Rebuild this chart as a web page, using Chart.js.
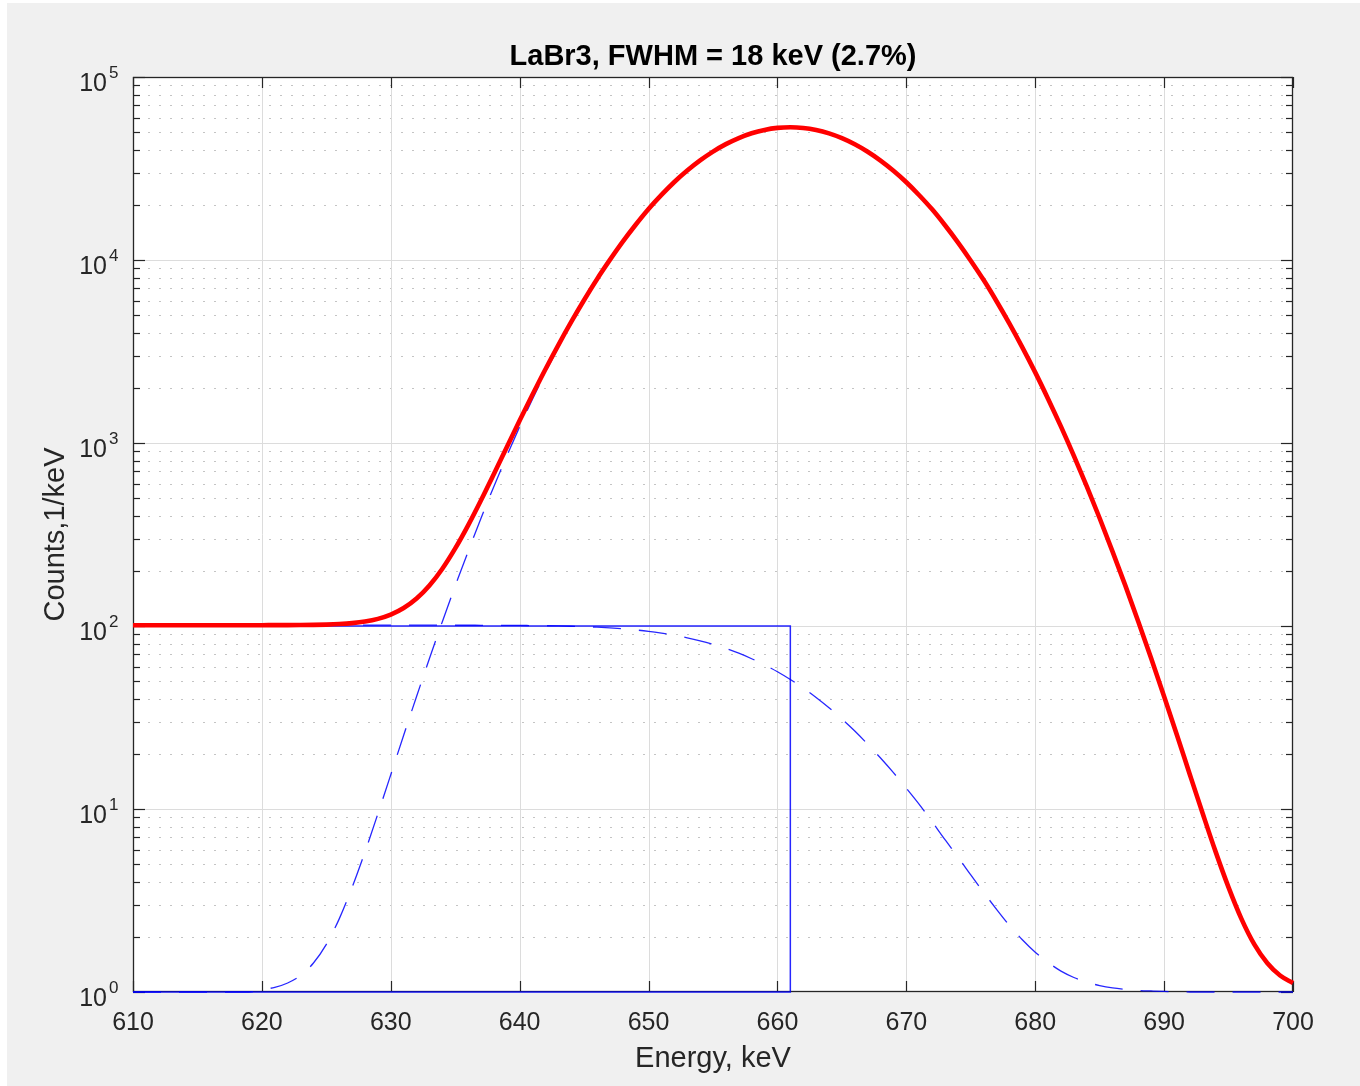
<!DOCTYPE html>
<html>
<head>
<meta charset="utf-8">
<title>LaBr3, FWHM = 18 keV (2.7%)</title>
<script src="https://cdn.jsdelivr.net/npm/chart.js@4.4.0/dist/chart.umd.min.js"></script>
<style>
  html, body { margin: 0; padding: 0; background: #ffffff; }
  #plot { display: block; }
</style>
</head>
<body>
<canvas id="plot" width="1360" height="1086"></canvas>
<script>
// energy grid, keV
const energy = [
  610, 611, 612, 613, 614, 615, 616, 617, 618, 619,
  620, 621, 622, 623, 624, 625, 626, 627, 628, 629,
  630, 631, 632, 633, 634, 635, 636, 637, 638, 639,
  640, 641, 642, 643, 644, 645, 646, 647, 648, 649,
  650, 651, 652, 653, 654, 655, 656, 657, 658, 659,
  660, 661, 662, 663, 664, 665, 666, 667, 668, 669,
  670, 671, 672, 673, 674, 675, 676, 677, 678, 679,
  680, 681, 682, 683, 684, 685, 686, 687, 688, 689,
  690, 691, 692, 693, 694, 695, 696, 697, 698, 699,
  700
];

// red: full response (peak + smeared step)
const totalCounts = [
  101, 101, 101, 101, 101, 101, 101, 101, 101, 101,
  101, 101.1, 101.1, 101.2, 101.4, 101.8, 102.5, 103.7, 105.8, 109.4,
  115.4, 125.3, 141.2, 166.4, 205.6, 265.5, 355, 487, 678, 949,
  1327, 1840, 2530, 3430, 4590, 6050, 7860, 10010, 12590, 15575,
  18990, 22670, 26680, 30810, 35000, 39110, 42955, 46380, 49235, 51370,
  52705, 53150, 52695, 51350, 49205, 46340, 42905, 39050, 34940, 30735,
  26600, 22590, 18910, 15485, 12495, 9915, 7765, 5953, 4492, 3332,
  2432, 1741, 1228, 850, 579, 388, 255, 165.6, 105.6, 66.4,
  41.2, 25.3, 15.4, 9.42, 5.83, 3.73, 2.51, 1.82, 1.44, 1.23,
  1.12
];

// blue dashed: gaussian peak part
const peakCounts = [
  1, 1, 1, 1, 1, 1, 1, 1, 1, 1,
  1.03, 1.06, 1.12, 1.23, 1.44, 1.82, 2.51, 3.73, 5.83, 9.42,
  15.4, 25.3, 41.2, 66.4, 105.6, 165.6, 255, 388, 579, 850,
  1228, 1741, 2431, 3331, 4491, 5951, 7761, 9911, 12491, 15481,
  18901, 22581, 26591, 30721, 34921, 39031, 42881, 46311, 49171, 51311,
  52651, 53101, 52651, 51311, 49171, 46311, 42881, 39031, 34921, 30721,
  26591, 22581, 18901, 15481, 12491, 9911, 7761, 5951, 4491, 3331,
  2431, 1741, 1228, 850, 579, 388, 255, 165.6, 105.6, 66.4,
  41.2, 25.3, 15.4, 9.42, 5.83, 3.73, 2.51, 1.82, 1.44, 1.23,
  1.12
];

// blue dashed: smeared step part
const stepCounts = [
  101, 101, 101, 101, 101, 101, 101, 101, 101, 101,
  101, 101, 101, 101, 101, 101, 101, 101, 101, 101,
  101, 101, 101, 101, 101, 100.97, 100.95, 100.9, 100.87, 100.8,
  100.7, 100.55, 100.35, 100.07, 99.69, 99.17, 98.5, 97.64, 96.53, 95.2,
  93.48, 91.4, 89.02, 86.2, 82.99, 79.4, 75.34, 71.0, 66.25, 61.3,
  56.2, 51, 45.8, 40.7, 35.75, 31.0, 26.66, 22.6, 19.0, 15.8,
  12.98, 10.6, 8.52, 6.8, 5.47, 4.36, 3.5, 2.83, 2.31, 1.93,
  1.65, 1.45, 1.30, 1.20, 1.13, 1.085, 1.054, 1.034, 1.02, 1.013,
  1.007, 1.004, 1, 1, 1, 1, 1, 1, 1, 1,
  1
];

// blue solid: ideal step outline
const boxEnergy = [610, 661, 661, 610];
const boxCounts = [1, 1, 100, 100];

// axis ticks
const xTicks = [610, 620, 630, 640, 650, 660, 670, 680, 690, 700];
const yExponents = [0, 1, 2, 3, 4, 5];
const yMinorFactors = [2, 3, 4, 5, 6, 7, 8, 9];

const FONT = "'Liberation Sans', Arial, Helvetica, sans-serif";
const AXIS_COLOR = '#262626';
const BLUE = 'rgba(0, 0, 255, 0.85)';

const toPoints = (xs, ys) => xs.map((x, i) => ({ x: x, y: ys[i] }));

const axesFrame = {
  id: 'axesFrame',
  beforeDraw(chart) {
    const { ctx, chartArea: a, width, height } = chart;
    ctx.save();
    ctx.fillStyle = '#f0f0f0';
    ctx.fillRect(0, 0, width, height);
    ctx.fillStyle = '#ffffff';
    ctx.fillRect(0, 0, 7, height);
    ctx.fillRect(0, 0, width, 3);
    ctx.fillRect(a.left, a.top, a.right - a.left, a.bottom - a.top);
    ctx.restore();
  },
  beforeDatasetsDraw(chart) {
    const { ctx, chartArea: a, scales: { x, y } } = chart;
    const seg = (x1, y1, x2, y2) => {
      ctx.beginPath();
      ctx.moveTo(x1, y1);
      ctx.lineTo(x2, y2);
      ctx.stroke();
    };
    ctx.save();
    ctx.lineWidth = 1;

    // minor grid (dotted)
    ctx.strokeStyle = '#c4c4c4';
    ctx.setLineDash([2, 9]);
    yExponents.slice(0, -1).forEach(e => {
      yMinorFactors.forEach(f => {
        const py = Math.round(y.getPixelForValue(f * Math.pow(10, e))) + 0.5;
        seg(a.left + 4, py, a.right, py);
      });
    });
    ctx.setLineDash([]);

    // major grid
    ctx.strokeStyle = '#dcdcdc';
    xTicks.slice(1, -1).forEach(v => {
      const px = Math.round(x.getPixelForValue(v)) + 0.5;
      seg(px, a.top, px, a.bottom);
    });
    yExponents.slice(1, -1).forEach(e => {
      const py = Math.round(y.getPixelForValue(Math.pow(10, e))) + 0.5;
      seg(a.left, py, a.right, py);
    });

    // tick marks, inward
    ctx.strokeStyle = AXIS_COLOR;
    ctx.lineWidth = 1.2;
    xTicks.forEach(v => {
      const px = Math.round(x.getPixelForValue(v)) + 0.5;
      seg(px, a.bottom, px, a.bottom - 11);
      seg(px, a.top, px, a.top + 11);
    });
    yExponents.forEach(e => {
      const py = Math.round(y.getPixelForValue(Math.pow(10, e))) + 0.5;
      seg(a.left, py, a.left + 12, py);
      seg(a.right, py, a.right - 12, py);
      if (e < 5) {
        yMinorFactors.forEach(f => {
          const pm = Math.round(y.getPixelForValue(f * Math.pow(10, e))) + 0.5;
          seg(a.left, pm, a.left + 7, pm);
          seg(a.right, pm, a.right - 7, pm);
        });
      }
    });

    // axes box
    ctx.lineWidth = 1.3;
    ctx.strokeRect(a.left + 0.5, a.top + 0.5, a.right - a.left - 1, a.bottom - a.top - 1);
    ctx.restore();
  },
  afterDraw(chart) {
    // y tick labels as 10^n
    const { ctx, scales: { y } } = chart;
    ctx.save();
    ctx.fillStyle = AXIS_COLOR;
    ctx.textBaseline = 'alphabetic';
    yExponents.forEach(e => {
      const py = y.getPixelForValue(Math.pow(10, e));
      ctx.font = '25px ' + FONT;
      ctx.textAlign = 'right';
      ctx.fillText('10', 107, py + 14);
      ctx.font = '17px ' + FONT;
      ctx.textAlign = 'left';
      ctx.fillText(String(e), 109, py + 1);
    });
    ctx.restore();
  }
};

const ctx = document.getElementById('plot').getContext('2d');
const chart = new Chart(ctx, {
  type: 'line',
  data: {
    datasets: [
      {
        label: 'total',
        data: toPoints(energy, totalCounts),
        borderColor: '#ff0000',
        borderWidth: 4.6,
        pointRadius: 0,
        cubicInterpolationMode: 'monotone',
        clip: 4
      },
      {
        label: 'peak',
        data: toPoints(energy, peakCounts),
        borderColor: BLUE,
        borderWidth: 1.3,
        borderDash: [28, 18],
        pointRadius: 0,
        cubicInterpolationMode: 'monotone',
        clip: 3
      },
      {
        label: 'step',
        data: toPoints(energy, stepCounts),
        borderColor: BLUE,
        borderWidth: 1.3,
        borderDash: [28, 18],
        pointRadius: 0,
        cubicInterpolationMode: 'monotone',
        clip: 3
      },
      {
        label: 'box',
        data: toPoints(boxEnergy, boxCounts),
        borderColor: BLUE,
        borderWidth: 1.5,
        pointRadius: 0,
        tension: 0,
        clip: 3
      }
    ]
  },
  options: {
    responsive: false,
    devicePixelRatio: 1,
    animation: false,
    layout: { padding: { left: 0, right: 67, top: 0, bottom: 0 } },
    plugins: {
      legend: { display: false },
      tooltip: { enabled: false },
      title: {
        display: true,
        fullSize: false,
        text: 'LaBr3, FWHM = 18 keV (2.7%)',
        color: '#000000',
        font: { family: FONT, size: 29, weight: 'bold', lineHeight: 1.2 },
        padding: { top: 40, bottom: 2.2 }
      }
    },
    scales: {
      x: {
        type: 'linear',
        min: 610,
        max: 700,
        grid: { display: false },
        border: { display: false },
        afterFit: s => { s.height = 94; },
        afterBuildTicks: s => { s.ticks = xTicks.map(v => ({ value: v })); },
        ticks: {
          autoSkip: false,
          maxRotation: 0,
          padding: 8,
          color: AXIS_COLOR,
          font: { family: FONT, size: 25 },
          callback: v => String(v)
        },
        title: {
          display: true,
          text: 'Energy, keV',
          color: AXIS_COLOR,
          font: { family: FONT, size: 29, lineHeight: 1.2 },
          padding: { top: 10, bottom: 10 }
        }
      },
      y: {
        type: 'logarithmic',
        min: 1,
        max: 100000,
        grid: { display: false },
        border: { display: false },
        afterFit: s => { s.width = 133; },
        ticks: { display: false },
        title: {
          display: true,
          text: 'Counts,1/keV',
          color: AXIS_COLOR,
          font: { family: FONT, size: 29, lineHeight: 1.2 },
          padding: { top: 38.6, bottom: 38.6 }
        }
      }
    }
  },
  plugins: [axesFrame]
});
</script>
</body>
</html>
